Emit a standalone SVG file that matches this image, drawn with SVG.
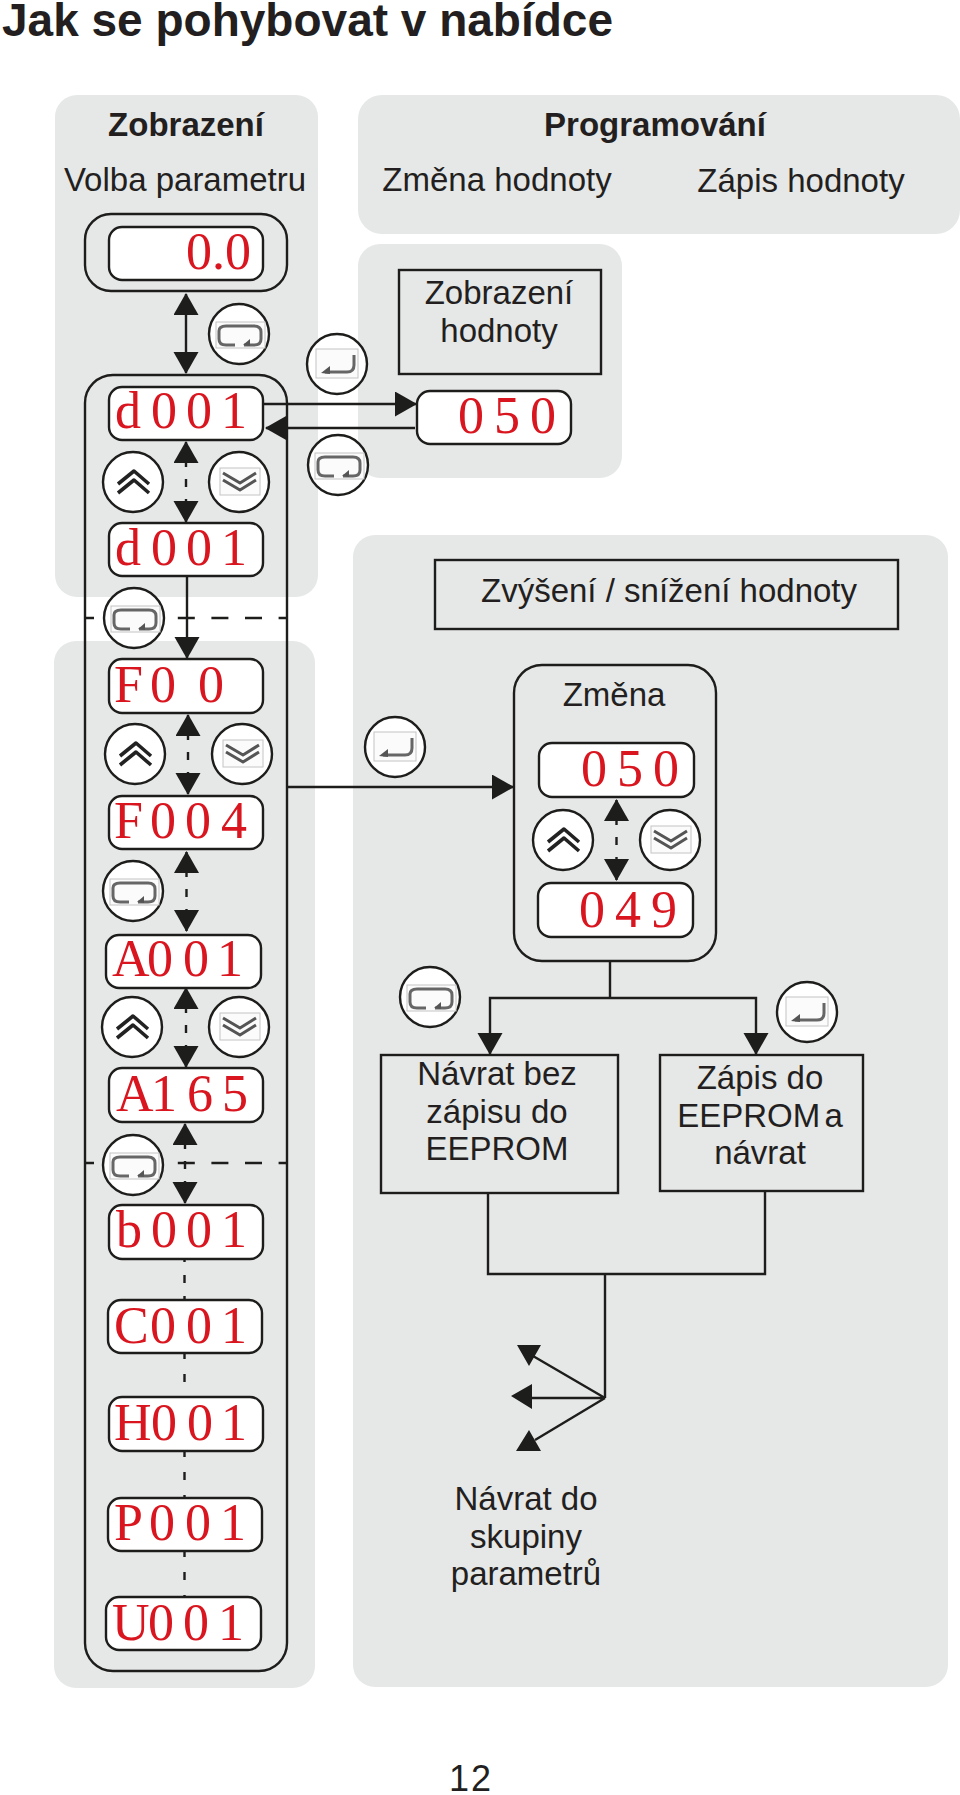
<svg xmlns="http://www.w3.org/2000/svg" xmlns:xlink="http://www.w3.org/1999/xlink" width="960" height="1795" viewBox="0 0 960 1795">
<style>
text{font-family:"Liberation Sans",Arial,sans-serif;fill:#231f20;font-size:33px}
.c{text-anchor:middle}
.b{font-weight:bold}
.d{font-family:"Liberation Serif","Times New Roman",serif;font-size:52px;fill:#d9161f}
.p{fill:#e6e7e7}
.ln{fill:none;stroke:#1d1d1b;stroke-width:2.4}
.box{fill:#fff;stroke:#1d1d1b;stroke-width:2.4}
.arr{marker-end:url(#ah)}
.dbl{marker-start:url(#ah);marker-end:url(#ah)}
.dsh{stroke-dasharray:25 12 8 12 25}
.sep{stroke-dasharray:17 16.6;stroke-dashoffset:8}
.frame{fill:#fbfbfb;stroke:#c4c4c4;stroke-width:1}
.ink{fill:none;stroke-width:3;stroke-linejoin:round}
</style>
<defs>
<marker id="ah" markerUnits="userSpaceOnUse" markerWidth="23" markerHeight="26" refX="21" refY="12.500" orient="auto-start-reverse"><path d="M0,0L22,12.500L0,25Z" fill="#1d1d1b"/></marker>
<g id="i-loop"><circle r="30" class="box"/><rect x="-23" y="-12" width="49" height="26" class="frame"/><path class="ink" stroke="#666" d="M-4,11H-13Q-20,11 -20,5V-3Q-20,-8 -13,-8H15Q22,-8 22,-2V5Q22,11 15,11H5"/><path d="M4,11L11,5V12Z" fill="#555"/></g>
<g id="i-enter"><circle r="30" class="box"/><rect x="-21" y="-15" width="42" height="29" class="frame"/><path class="ink" stroke="#666" d="M17,-9V1Q17,8 10,8H-12"/><path d="M-16,9L-7,2V10Z" fill="#555"/></g>
<g id="i-up"><circle r="30" class="box"/><path class="ink" stroke="#222" stroke-width="3.600" style="stroke-width:3.600" d="M-15,2L1,-11L16,2M-15,11L1,-2L16,11"/></g>
<g id="i-down"><circle r="30" class="box"/><rect x="-19" y="-14" width="40" height="27" class="frame"/><path class="ink" stroke="#555" d="M-16,-9L1,1L17,-9M-16,-2L1,8L17,-2"/></g>
</defs>
<rect width="960" height="1795" fill="#fff"/>
<g id="title"><text class="b" x="2" y="36" style="font-size:46px">Jak se pohybovat v nabídce</text></g>
<g id="panels">
<rect class="p" x="55" y="95" width="263" height="502" rx="22"/>
<rect class="p" x="358" y="95" width="602" height="139" rx="24"/>
<rect class="p" x="358" y="244" width="264" height="234" rx="22"/>
<rect class="p" x="54" y="641" width="261" height="1047" rx="22"/>
<rect class="p" x="353" y="535" width="595" height="1152" rx="22"/>
</g>
<g id="headings">
<text class="b c" x="186" y="136">Zobrazení</text>
<text class="b c" x="655" y="136">Programování</text>
<text class="c" x="185" y="191">Volba parametru</text>
<text class="c" x="497" y="191">Změna hodnoty</text>
<text class="c" x="801" y="192">Zápis hodnoty</text>
</g>
<g id="frames">
<rect class="ln" x="85" y="214" width="202" height="77" rx="26"/>
<rect class="ln" x="85" y="375" width="202" height="1296" rx="28"/>
<rect class="ln" x="514" y="665" width="202" height="296" rx="28"/>
</g>
<g id="connectors">
<line class="ln sep" x1="85" y1="618" x2="287" y2="618"/>
<line class="ln sep" x1="85" y1="1163" x2="287" y2="1163"/>
<line class="ln dbl" x1="186" y1="294" x2="186" y2="373"/>
<line class="ln arr" x1="263" y1="404" x2="416" y2="404"/>
<line class="ln arr" x1="415" y1="428" x2="266" y2="428"/>
<line class="ln dbl dsh" x1="186" y1="442" x2="186" y2="522"/>
<line class="ln arr" x1="187" y1="576" x2="187" y2="658"/>
<line class="ln dbl dsh" x1="188" y1="715" x2="188" y2="794"/>
<line class="ln dbl dsh" x1="186.500" y1="852" x2="186.500" y2="931"/>
<line class="ln dbl dsh" x1="186" y1="988" x2="186" y2="1067"/>
<line class="ln dbl dsh" x1="185" y1="1124" x2="185" y2="1203"/>
<path class="ln" stroke-dasharray="3 13 8 13 3" d="M184.500,1259V1300"/>
<path class="ln" stroke-dasharray="6 15 8 15 6" d="M184.500,1353V1397"/>
<path class="ln" stroke-dasharray="6 15 8 15 6" d="M184.500,1451V1498"/>
<path class="ln" stroke-dasharray="6 15 8 15 6" d="M184.500,1551V1597"/>
<line class="ln arr" x1="287" y1="787" x2="513" y2="787"/>
<line class="ln dbl dsh" x1="616.500" y1="800" x2="616.500" y2="880"/>
<path class="ln" d="M610,961V998"/>
<path class="ln arr" d="M610,998H490V1054"/>
<path class="ln arr" d="M610,998H756V1054"/>
<path class="ln" d="M488,1193V1274H765V1191M605,1274V1398"/>
<path class="ln" d="M605,1398L533,1356M605,1398H530M605,1398L535,1440"/>
<path d="M517,1345H541L529,1366Z M511,1396L532,1384V1409Z M529,1430L541,1451H516Z" fill="#1d1d1b"/>
</g>
<g id="node-00"><rect class="box" x="109" y="227" width="154" height="53" rx="13"/><text class="d" x="186" y="269">0.0</text></g>
<g id="node-d001a"><rect class="box" x="109" y="387" width="154" height="53" rx="13"/><text class="d" x="115 151 186 221" y="428">d001</text></g>
<g id="node-d001b"><rect class="box" x="109" y="523" width="154" height="53" rx="13"/><text class="d" x="115 151 186 221" y="565">d001</text></g>
<g id="node-f00"><rect class="box" x="109" y="659" width="154" height="54" rx="13"/><text class="d" x="114 150 198" y="702">F00</text></g>
<g id="node-f004"><rect class="box" x="109" y="796" width="154" height="53" rx="13"/><text class="d" x="114 150 185 221" y="838">F004</text></g>
<g id="node-a001"><rect class="box" x="106" y="935" width="155" height="53" rx="13"/><text class="d" x="112 147 183 217" y="976">A001</text></g>
<g id="node-a165"><rect class="box" x="109" y="1068" width="154" height="54" rx="13"/><text class="d" x="116 151 187 222" y="1111">A165</text></g>
<g id="node-b001"><rect class="box" x="109" y="1205" width="154" height="54" rx="13"/><text class="d" x="116 151 186 221" y="1247">b001</text></g>
<g id="node-c001"><rect class="box" x="108" y="1300" width="154" height="53" rx="13"/><text class="d" x="114 150 186 221" y="1343">C001</text></g>
<g id="node-h001"><rect class="box" x="109" y="1397" width="154" height="54" rx="13"/><text class="d" x="114 151 187 221" y="1440">H001</text></g>
<g id="node-p001"><rect class="box" x="108" y="1498" width="154" height="53" rx="13"/><text class="d" x="114 149 185 220" y="1540">P001</text></g>
<g id="node-u001"><rect class="box" x="106" y="1597" width="155" height="53" rx="13"/><text class="d" x="112 148 183 218" y="1640">U001</text></g>
<g id="node-zh"><rect class="ln" x="399" y="270" width="202" height="104"/><text class="c" x="499" y="304">Zobrazení</text><text class="c" x="499" y="342">hodnoty</text></g>
<g id="node-050a"><rect class="box" x="417" y="391" width="154" height="53" rx="13"/><text class="d" x="458 494 530" y="433">050</text></g>
<g id="node-zs"><rect class="ln" x="435" y="560" width="463" height="69"/><text x="481" y="602">Zvýšení / snížení hodnoty</text></g>
<g id="node-zmena"><text class="c" x="614" y="706">Změna</text></g>
<g id="node-050b"><rect class="box" x="539" y="743" width="155" height="54" rx="13"/><text class="d" x="581 617 653" y="786">050</text></g>
<g id="node-049"><rect class="box" x="538" y="883" width="155" height="54" rx="13"/><text class="d" x="579 615 651" y="927">049</text></g>
<g id="node-navrat"><rect class="ln" x="381" y="1055" width="237" height="138"/><text class="c" x="497" y="1085">Návrat bez</text><text class="c" x="497" y="1123">zápisu do</text><text class="c" x="497" y="1160">EEPROM</text></g>
<g id="node-zapis"><rect class="ln" x="660" y="1055" width="203" height="136"/><text class="c" x="760" y="1089">Zápis do</text><text class="c" x="760" y="1127" word-spacing="-5">EEPROM a</text><text class="c" x="760" y="1164">návrat</text></g>
<g id="node-group"><text class="c" x="526" y="1510">Návrat do</text><text class="c" x="526" y="1548">skupiny</text><text class="c" x="526" y="1585">parametrů</text></g>
<g id="buttons">
<use xlink:href="#i-loop" href="#i-loop" x="239" y="334"/>
<use xlink:href="#i-enter" href="#i-enter" x="337" y="364"/>
<use xlink:href="#i-loop" href="#i-loop" x="338" y="465"/>
<use xlink:href="#i-up" href="#i-up" x="133" y="482"/>
<use xlink:href="#i-down" href="#i-down" x="239" y="482"/>
<use xlink:href="#i-loop" href="#i-loop" x="134" y="618"/>
<use xlink:href="#i-up" href="#i-up" x="135" y="754"/>
<use xlink:href="#i-down" href="#i-down" x="242" y="754"/>
<use xlink:href="#i-loop" href="#i-loop" x="133" y="891"/>
<use xlink:href="#i-up" href="#i-up" x="132" y="1027"/>
<use xlink:href="#i-down" href="#i-down" x="239" y="1027"/>
<use xlink:href="#i-loop" href="#i-loop" x="133" y="1165"/>
<use xlink:href="#i-enter" href="#i-enter" x="395" y="747"/>
<use xlink:href="#i-up" href="#i-up" x="563" y="840"/>
<use xlink:href="#i-down" href="#i-down" x="670" y="840"/>
<use xlink:href="#i-loop" href="#i-loop" x="430" y="997"/>
<use xlink:href="#i-enter" href="#i-enter" x="807" y="1012"/>
</g>
<g id="page"><text x="449 471" y="1791" style="font-size:36px">12</text></g>
</svg>
